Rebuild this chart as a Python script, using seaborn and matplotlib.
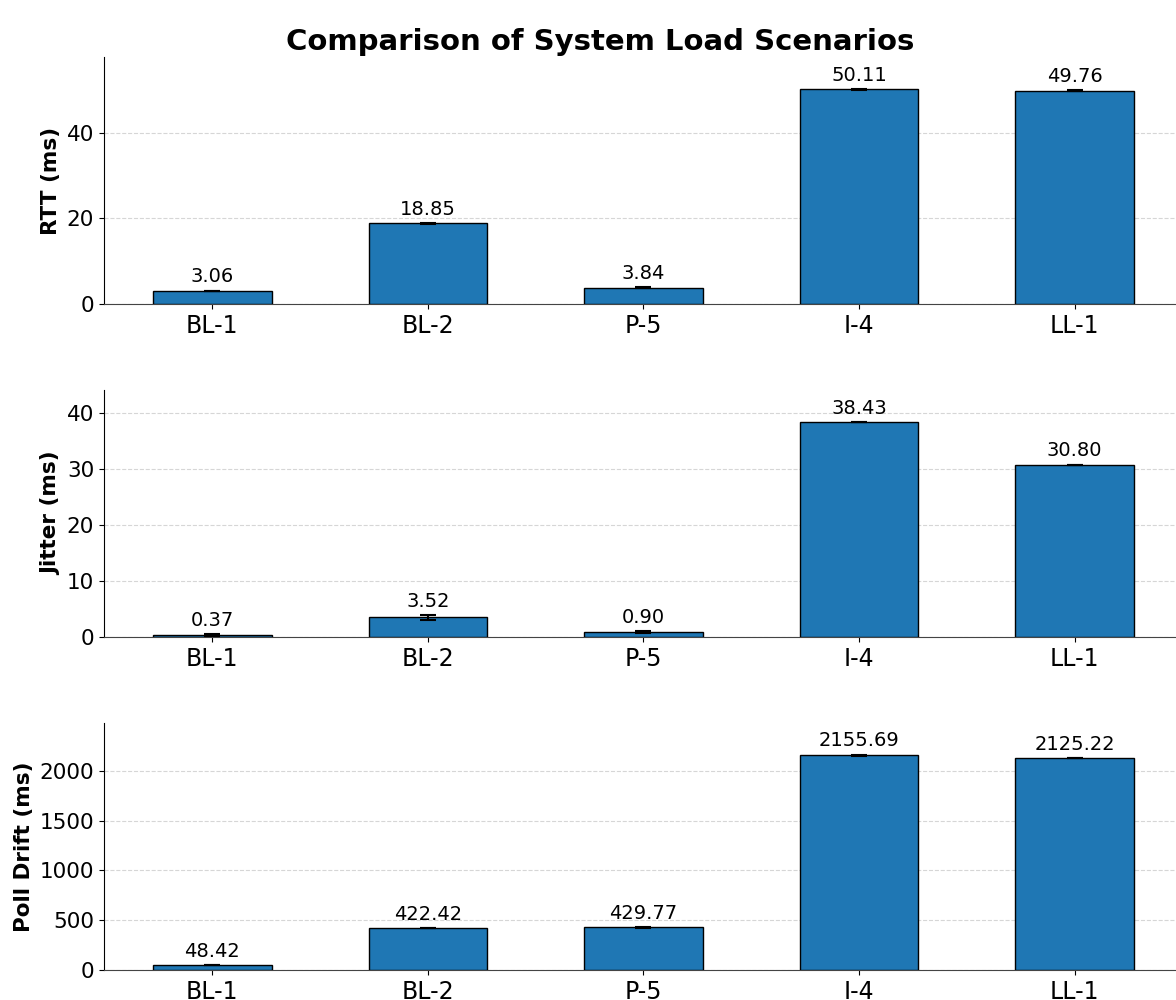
import matplotlib
matplotlib.use("Agg")
import matplotlib.pyplot as plt
import seaborn as sns
import pandas as pd

scenarios = ["BL-1", "BL-2", "P-5", "I-4", "LL-1"]

rtt_mean = [3.06, 18.85, 3.84, 50.11, 49.76]
rtt_err = [0.08, 0.12, 0.10, 0.08, 0.06]

jitter_mean = [0.37, 3.52, 0.90, 38.43, 30.80]
jitter_err = [0.15, 0.45, 0.15, 0.05, 0.05]

drift_mean = [48.42, 422.42, 429.77, 2155.69, 2125.22]
drift_err = [3.0, 2.0, 4.0, 6.0, 2.0]

panels = [
    ("RTT (ms)", rtt_mean, rtt_err),
    ("Jitter (ms)", jitter_mean, jitter_err),
    ("Poll Drift (ms)", drift_mean, drift_err),
]

sns.set_style("ticks")
plt.rcParams["font.family"] = ["DejaVu Sans"]
plt.rcParams.update({
    "text.color": "black",
    "axes.labelcolor": "black",
    "xtick.color": "black",
    "ytick.color": "black",
})

fig = plt.figure(figsize=(11.76, 10), dpi=100)
fig.suptitle("Comparison of System Load Scenarios", fontsize=21,
             fontweight="bold", x=0.51, y=0.972, color="black")

bottoms = [0.696, 0.363, 0.030]
height = 0.247
left = 0.0884

for (label, means, errs), b in zip(panels, bottoms):
    ax = fig.add_axes([left, b, 1.0 - left, height])
    df = pd.DataFrame({"scenario": scenarios, "value": means})
    sns.barplot(data=df, x="scenario", y="value", ax=ax, color="#1f77b4",
                saturation=1, width=0.55, edgecolor="black", linewidth=1,
                errorbar=None, zorder=3)
    ax.errorbar(range(len(scenarios)), means, yerr=errs, fmt="none",
                ecolor="black", elinewidth=1.5, capsize=6, capthick=1.5,
                zorder=4)
    for i, (v, e) in enumerate(zip(means, errs)):
        ax.annotate(f"{v:.2f}", (i, v + e), xytext=(0, 3),
                    textcoords="offset points", ha="center", va="bottom",
                    fontsize=14, color="black")
    ax.set_ylim(0, max(means) * 1.15)
    ax.set_xlim(-0.5025, 4.47)
    ax.set_xlabel("")
    ax.set_ylabel(label, fontsize=15.5, fontweight="bold")
    ax.tick_params(axis="x", labelsize=17)
    ax.tick_params(axis="y", labelsize=15.5)
    ax.grid(axis="y", linestyle="--", color="#cccccc", alpha=0.8, zorder=0)
    ax.set_axisbelow(True)
    sns.despine(ax=ax)
    ax.spines["left"].set_color("black")
    ax.spines["bottom"].set_color("#444444")

fig.savefig("out.png", dpi=100)
